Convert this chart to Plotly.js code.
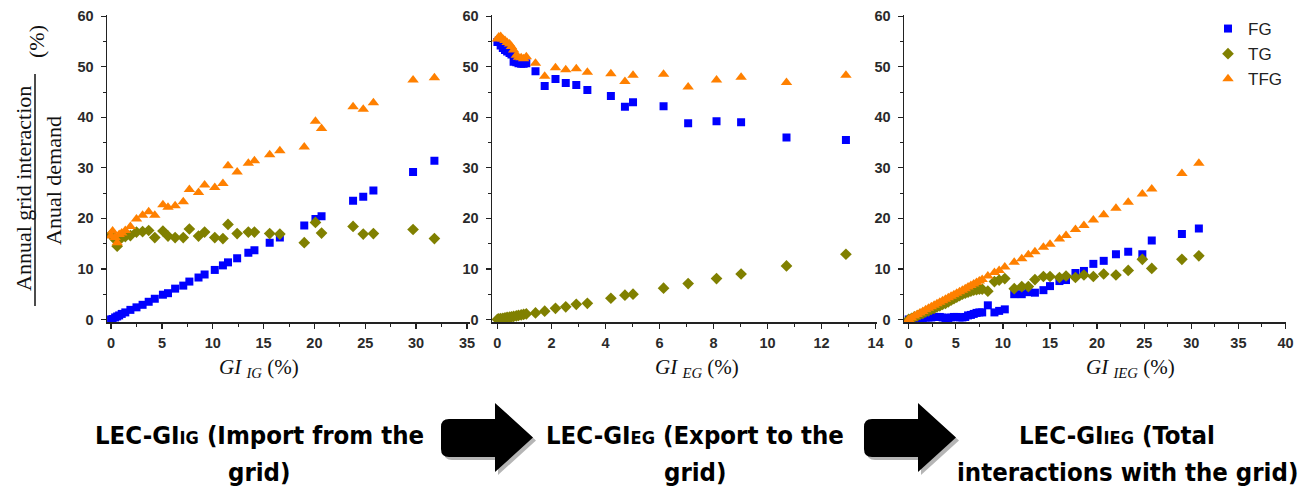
<!DOCTYPE html>
<html>
<head>
<meta charset="utf-8">
<script src="https://cdn.plot.ly/plotly-3.0.1.min.js"></script>
<style>html,body{margin:0;padding:0;background:#fff;}#chart{width:1302px;height:492px;}</style>
</head>
<body>
<div id="chart"></div>
<script>
// ---------- DATA ----------
const seriesNames = ["FG", "TG", "TFG"];

// Panel 1: GI_IG
const x1 = [0, 0.15, 0.4, 0.6, 0.8, 1.05, 1.4, 1.9, 2.5, 3.1, 3.7, 4.3, 5.1, 5.6, 6.3, 7.1, 7.7, 8.6, 9.2, 10.2, 11.0, 11.5, 12.4, 13.5, 14.1, 15.6, 16.6, 19.0, 20.1, 20.7, 23.8, 24.8, 25.8, 29.7, 31.8];
const fg1 = [0, 0.1, 0.4, 0.6, 0.8, 1.1, 1.4, 1.9, 2.4, 2.9, 3.5, 4.1, 4.9, 5.2, 6.1, 6.7, 7.5, 8.3, 8.9, 9.8, 10.7, 11.3, 12.1, 13.2, 13.7, 15.2, 16.2, 18.6, 19.9, 20.4, 23.5, 24.3, 25.5, 29.2, 31.4];
const tg1 = [16.8, 16.5, 15.8, 14.5, 15.9, 16.2, 16.4, 16.6, 17.3, 17.4, 17.6, 16.2, 17.5, 16.5, 16.2, 16.2, 17.9, 16.5, 17.3, 16.2, 16.0, 18.8, 17.0, 17.3, 17.3, 17.0, 16.9, 15.2, 19.2, 17.1, 18.4, 16.9, 17.0, 17.8, 16.0];
const tfg1 = [16.5, 17.5, 16.2, 15.2, 16.8, 17.1, 17.6, 18.4, 19.9, 20.6, 21.3, 20.6, 22.7, 22.2, 22.5, 23.3, 25.7, 25.1, 26.6, 26.1, 26.9, 30.4, 29.2, 30.9, 31.4, 32.6, 33.4, 34.1, 39.2, 37.8, 42.1, 41.6, 42.9, 47.4, 47.8];

// Panel 2: GI_EG
const x2 = [0, 0.05, 0.12, 0.2, 0.28, 0.36, 0.45, 0.52, 0.6, 0.7, 0.78, 0.88, 0.97, 1.07, 1.41, 1.75, 2.15, 2.53, 2.92, 3.33, 4.2, 4.72, 5.02, 6.15, 7.06, 8.11, 9.02, 10.7, 12.9];
const fg2 = [54.9, 55.2, 54.2, 53.7, 53.3, 53.0, 52.7, 52.4, 51.0, 50.9, 50.7, 50.6, 50.6, 50.7, 49.1, 46.2, 47.6, 46.8, 46.4, 45.4, 44.2, 42.1, 43.0, 42.2, 38.8, 39.2, 39.0, 36.0, 35.5];
const tg2 = [0.0, 0.1, 0.15, 0.2, 0.3, 0.4, 0.45, 0.5, 0.6, 0.7, 0.8, 0.9, 1.0, 1.1, 1.3, 1.65, 2.2, 2.5, 3.0, 3.2, 4.2, 4.8, 5.0, 6.2, 7.1, 8.1, 9.0, 10.6, 12.9];
const tfg2 = [55.5, 55.9, 56.0, 55.5, 55.2, 54.8, 54.5, 54.0, 53.3, 52.3, 51.9, 51.8, 51.6, 52.0, 50.7, 48.1, 49.8, 49.4, 49.6, 48.9, 48.6, 47.1, 48.3, 48.5, 46.0, 47.4, 47.9, 46.9, 48.3];

// Panel 3: GI_IEG
const x3 = [0, 0.3, 0.6, 0.9, 1.2, 1.5, 1.8, 2.1, 2.4, 2.7, 3.0, 3.3, 3.6, 3.9, 4.2, 4.5, 4.8, 5.1, 5.4, 5.7, 6.0, 6.3, 6.6, 6.9, 7.2, 7.5, 7.8, 8.4, 9.1, 9.6, 10.2, 11.2, 12.0, 12.7, 13.4, 14.3, 15.0, 16.0, 16.7, 17.7, 18.6, 19.6, 20.7, 22.0, 23.3, 24.8, 25.8, 29.0, 30.8];
const fg3 = [0, 0.1, 0.2, 0.2, 0.3, 0.3, 0.4, 0.4, 0.4, 0.5, 0.5, 0.5, 0.4, 0.3, 0.3, 0.4, 0.5, 0.5, 0.4, 0.4, 0.5, 0.8, 0.9, 1.1, 1.3, 1.4, 1.4, 2.8, 1.4, 1.7, 2.0, 5.0, 5.0, 5.4, 5.3, 5.8, 6.6, 7.6, 7.8, 9.2, 9.6, 11.0, 11.6, 12.9, 13.4, 12.9, 15.6, 16.9, 18.0];
const tg3 = [0, 0.2, 0.5, 0.7, 1.0, 1.2, 1.5, 1.7, 2.0, 2.2, 2.5, 2.7, 3.0, 3.2, 3.5, 3.8, 4.1, 4.4, 4.7, 5.0, 5.2, 5.4, 5.6, 5.8, 5.9, 6.0, 6.0, 5.6, 7.5, 7.8, 8.1, 6.1, 6.5, 6.5, 7.9, 8.5, 8.5, 8.3, 8.6, 8.3, 8.8, 8.5, 9.0, 8.8, 9.7, 11.9, 10.1, 11.9, 12.6];
const tfg3 = [0, 0.3, 0.7, 1.0, 1.3, 1.6, 1.9, 2.2, 2.5, 2.8, 3.1, 3.4, 3.7, 4.0, 4.3, 4.6, 4.9, 5.2, 5.5, 5.8, 6.1, 6.4, 6.7, 7.0, 7.3, 7.6, 7.9, 8.6, 9.3, 9.7, 10.4, 11.3, 12.0, 12.8, 13.4, 14.3, 14.9, 15.9, 16.6, 17.8, 18.6, 19.7, 20.7, 22.0, 23.2, 24.8, 25.8, 28.9, 30.9];

const yTickVals = [0, 10, 20, 30, 40, 50, 60];

// ---------- STYLE ----------
const W = 1302, H = 492;
const px = v => v / W;
const py = v => 1 - v / H;
const colors = {FG: "#0000ff", TG: "#808000", TFG: "#ff8000"};
const symbols = {FG: "square", TG: "diamond", TFG: "triangle-up"};
const sizes = {FG: 8, TG: 9, TFG: 10};

const panels = [
  {x: x1, ys: [fg1, tg1, tfg1], xa: "x", ya: "y"},
  {x: x2, ys: [fg2, tg2, tfg2], xa: "x2", ya: "y2"},
  {x: x3, ys: [fg3, tg3, tfg3], xa: "x3", ya: "y3"}
];

const traces = [];
panels.forEach((p, pi) => {
  seriesNames.forEach((n, si) => {
    traces.push({
      type: "scatter", mode: "markers",
      x: p.x, y: p.ys[si], xaxis: p.xa, yaxis: p.ya,
      name: n, legendgroup: n, showlegend: pi === 0,
      marker: {symbol: symbols[n], size: sizes[n], color: colors[n], line: {width: 0}}
    });
  });
});

const tickFont = {family: "Liberation Sans, Arial, sans-serif", size: 14.5, color: "#2a2a2a", weight: "bold"};
const yDom = [py(322), py(15.2)];
function xAxis(l, r, range, dtick, minor) {
  return {
    domain: [px(l), px(r)], range: range, dtick: dtick, tick0: 0,
    showline: true, linecolor: "#222", linewidth: 1.5, mirror: false,
    ticks: "outside", ticklen: 5, tickwidth: 1.3, tickcolor: "#222", ticklabelstandoff: 2,
    minor: {dtick: minor, ticks: "outside", ticklen: 3, tickwidth: 1, tickcolor: "#222", showgrid: false},
    showgrid: false, zeroline: false, tickfont: tickFont, fixedrange: true
  };
}
function yAxis(anchor) {
  return {
    domain: yDom, anchor: anchor, range: [-0.5, 60.2], tickvals: yTickVals,
    showline: true, linecolor: "#222", linewidth: 1.5,
    ticks: "outside", ticklen: 5, tickwidth: 1.3, tickcolor: "#222", ticklabelstandoff: 4,
    minor: {dtick: 5, ticks: "outside", ticklen: 3, tickwidth: 1, tickcolor: "#222", showgrid: false},
    showgrid: false, zeroline: false, tickfont: tickFont, fixedrange: true
  };
}

const serif = "Liberation Serif, Times New Roman, serif";
const narrow = "DejaVu Sans Condensed, Liberation Sans Narrow, Arial Narrow, sans-serif";
const bottomFont = {family: narrow, size: 25.5, color: "#000", weight: "bold"};
const sm = s => '<span style="font-size:18px">' + s + '</span>';
const titleFont = {family: serif, size: 22, color: "#111"};
const xtFont = {family: serif, size: 21, color: "#111"};

const annotations = [
  {text: "Annual grid interaction", x: px(23), y: py(189), textangle: -90, font: titleFont},
  {text: "Anual demand", x: px(53), y: py(181), textangle: -90, font: titleFont},
  {text: "(%)", x: px(37), y: py(42), textangle: -90, font: titleFont},
  {text: "<i>GI</i> <sub><i>IG</i></sub> (%)", x: px(259), y: py(368), font: xtFont},
  {text: "<i>GI</i> <sub><i>EG</i></sub> (%)", x: px(697), y: py(368), font: xtFont},
  {text: "<i>GI</i> <sub><i>IEG</i></sub> (%)", x: px(1130), y: py(368), font: xtFont},
  {text: "LEC-GI" + sm("IG") + " (Import from the", x: px(259), y: py(435), font: bottomFont},
  {text: "grid)", x: px(259), y: py(472), font: bottomFont},
  {text: "LEC-GI" + sm("EG") + " (Export to the", x: px(695), y: py(435), font: bottomFont},
  {text: "grid)", x: px(695), y: py(472), font: bottomFont},
  {text: "LEC-GI" + sm("IEG") + " (Total", x: px(1117), y: py(435), font: bottomFont},
  {text: "interactions with the grid)", x: px(1127), y: py(472), font: bottomFont}
].map(a => Object.assign({xref: "paper", yref: "paper", showarrow: false, xanchor: "center", yanchor: "middle", align: "center"}, a));

function arrowPath(x0, dx, dy) {
  const pts = [
    ["M", x0 + 54, 419], ["L", x0 + 8, 419], ["Q", x0, 419, x0, 427], ["L", x0, 449],
    ["Q", x0, 457, x0 + 8, 457], ["L", x0 + 54, 457], ["L", x0 + 54, 472], ["L", x0 + 92, 437.5],
    ["L", x0 + 54, 403]
  ];
  return pts.map(p => {
    let s = p[0];
    for (let i = 1; i < p.length; i += 2) s += " " + px(p[i] + dx).toFixed(5) + "," + py(p[i + 1] + dy).toFixed(5);
    return s;
  }).join(" ") + " Z";
}
const shapes = [
  {type: "line", xref: "paper", yref: "paper", x0: px(35), x1: px(35), y0: py(74), y1: py(306), line: {color: "#111", width: 1.5}}
];
[441, 864].forEach(x0 => {
  shapes.push({type: "path", xref: "paper", yref: "paper", path: arrowPath(x0, 3, 3), fillcolor: "rgba(120,120,120,0.55)", line: {width: 0}});
  shapes.push({type: "path", xref: "paper", yref: "paper", path: arrowPath(x0, 0, 0), fillcolor: "#000", line: {width: 0}});
});

const layout = {
  width: W, height: H,
  margin: {l: 0, r: 0, t: 0, b: 0, pad: 0},
  paper_bgcolor: "#fff", plot_bgcolor: "rgba(0,0,0,0)",
  xaxis: Object.assign(xAxis(107, 470, [-0.4, 35.3], 5, 2.5), {anchor: "y"}),
  xaxis2: Object.assign(xAxis(492, 877, [-0.2, 14.05], 2, 1), {anchor: "y2"}),
  xaxis3: Object.assign(xAxis(904, 1286, [-0.5, 40.05], 5, 2.5), {anchor: "y3"}),
  yaxis: yAxis("x"), yaxis2: yAxis("x2"), yaxis3: yAxis("x3"),
  showlegend: true,
  legend: {x: px(1208), y: py(11), xanchor: "left", yanchor: "top", bgcolor: "rgba(0,0,0,0)",
           font: {family: "Liberation Sans, Arial, sans-serif", size: 17, color: "#222"}, tracegroupgap: 0, itemwidth: 30},
  annotations: annotations,
  shapes: shapes
};

Plotly.newPlot("chart", traces, layout, {displayModeBar: false, staticPlot: true});
</script>
</body>
</html>
